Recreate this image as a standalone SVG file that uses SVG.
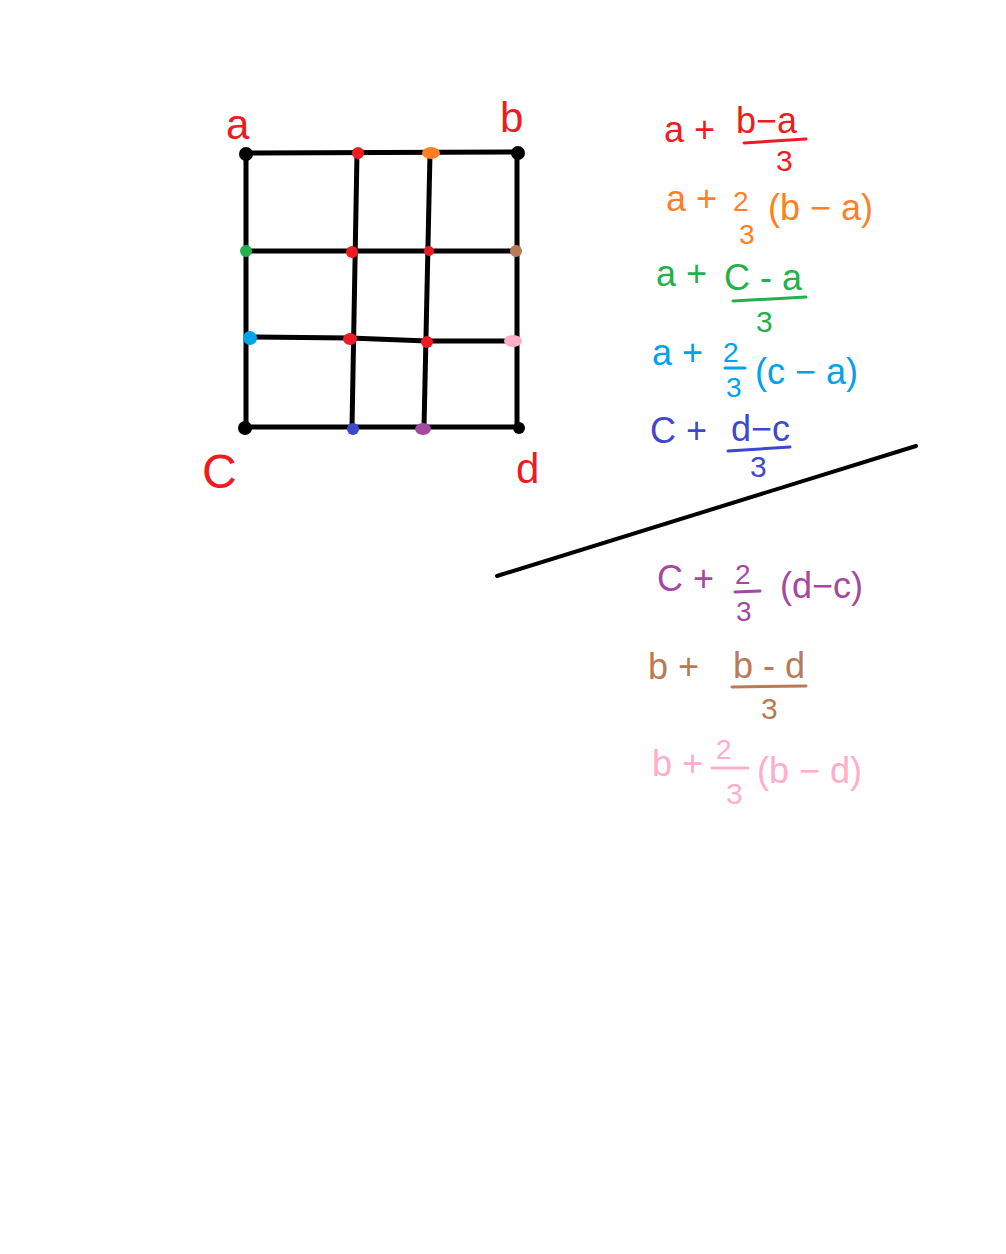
<svg xmlns="http://www.w3.org/2000/svg" width="1006" height="1254" viewBox="0 0 1006 1254">
<style>
.g{stroke:#000;stroke-width:5;stroke-linecap:round;fill:none}
.t{font-family:"Liberation Sans","DejaVu Sans",sans-serif;font-size:36px}
.d{font-family:"Liberation Sans","DejaVu Sans",sans-serif;font-size:30px}
.s{font-family:"Liberation Sans","DejaVu Sans",sans-serif;font-size:28px}
.bar{stroke-width:3;stroke-linecap:round}
.red{fill:#ed1c24}.ora{fill:#ff7f27}.grn{fill:#22b14c}.lbl{fill:#00a2e8}.blu{fill:#3f48cc}.pur{fill:#a349a4}.brn{fill:#b97a57}.pnk{fill:#ffaec9}
</style>
<rect width="1006" height="1254" fill="#fff"/>
<g id="grid">
<path class="g" d="M246,153 L518,152"/>
<path class="g" d="M246,251 L517,251"/>
<path class="g" d="M250,337 L350,338 L427,341 L514,341"/>
<path class="g" d="M246,427 L518,427"/>
<path class="g" d="M246,153 L246,428"/>
<path class="g" d="M357,153 L352,428"/>
<path class="g" d="M430,153 L424,428"/>
<path class="g" d="M517,152 L517,428"/>
</g>
<g id="points">
<circle cx="246" cy="154" r="7" fill="#000"/>
<circle cx="518" cy="153" r="7" fill="#000"/>
<circle cx="245" cy="428" r="7" fill="#000"/>
<circle cx="519" cy="428" r="6" fill="#000"/>
<circle cx="358" cy="153" r="6" class="red"/>
<ellipse cx="431" cy="153" rx="9" ry="6" class="ora"/>
<circle cx="246" cy="251" r="6" class="grn"/>
<circle cx="352" cy="252" r="6" class="red"/>
<circle cx="429" cy="251" r="5" class="red"/>
<circle cx="516" cy="251" r="6" class="brn"/>
<circle cx="250" cy="338" r="7" class="lbl"/>
<ellipse cx="350" cy="339" rx="7" ry="6" class="red"/>
<circle cx="427" cy="342" r="6" class="red"/>
<ellipse cx="513" cy="341" rx="9" ry="6" class="pnk"/>
<circle cx="353" cy="429" r="6" class="blu"/>
<ellipse cx="423" cy="429" rx="8" ry="6" class="pur"/>
</g>
<g id="labels" class="t">
<text x="226" y="139" class="red" font-size="42">a</text>
<text x="500" y="132" class="red" font-size="42">b</text>
<text x="202" y="488" class="red" font-size="48">C</text>
<text x="516" y="483" class="red" font-size="42">d</text>
</g>
<g id="divider">
<path d="M497,576 L916,446" stroke="#000" stroke-width="4" stroke-linecap="round"/>
</g>
<g id="f1" class="red">
<text class="t" x="664" y="142">a +</text>
<text class="t" x="736" y="133">b−a</text>
<line class="bar" x1="744" y1="143" x2="806" y2="139" stroke="#ed1c24"/>
<text class="d" x="776" y="171">3</text>
</g>
<g id="f2" class="ora">
<text class="t" x="666" y="211">a +</text>
<text class="s" x="733" y="211">2</text>
<text class="s" x="739" y="244">3</text>
<text class="t" x="768" y="220">(b − a)</text>
</g>
<g id="f3" class="grn">
<text class="t" x="656" y="286">a +</text>
<text class="t" x="724" y="290">C - a</text>
<line class="bar" x1="733" y1="301" x2="806" y2="297" stroke="#22b14c"/>
<text class="d" x="756" y="332">3</text>
</g>
<g id="f4" class="lbl">
<text class="t" x="652" y="365">a +</text>
<text class="s" x="723" y="362">2</text>
<line class="bar" x1="725" y1="368" x2="745" y2="368" stroke="#00a2e8"/>
<text class="s" x="726" y="397">3</text>
<text class="t" x="755" y="384">(c − a)</text>
</g>
<g id="f5" class="blu">
<text class="t" x="650" y="443">C +</text>
<text class="t" x="731" y="441">d−c</text>
<line class="bar" x1="728" y1="451" x2="790" y2="447" stroke="#3f48cc"/>
<text class="d" x="750" y="477">3</text>
</g>
<g id="f6" class="pur">
<text class="t" x="657" y="591">C +</text>
<text class="s" x="735" y="584">2</text>
<line class="bar" x1="735" y1="592" x2="760" y2="591" stroke="#a349a4"/>
<text class="s" x="736" y="621">3</text>
<text class="t" x="780" y="598">(d−c)</text>
</g>
<g id="f7" class="brn">
<text class="t" x="648" y="679">b +</text>
<text class="t" x="733" y="678">b - d</text>
<line class="bar" x1="732" y1="687" x2="806" y2="686" stroke="#b97a57"/>
<text class="d" x="761" y="719">3</text>
</g>
<g id="f8" class="pnk">
<text class="t" x="652" y="776">b +</text>
<text class="s" x="716" y="759">2</text>
<line class="bar" x1="712" y1="768" x2="748" y2="768" stroke="#ffaec9"/>
<text class="d" x="726" y="804">3</text>
<text class="t" x="757" y="783">(b − d)</text>
</g>
</svg>
